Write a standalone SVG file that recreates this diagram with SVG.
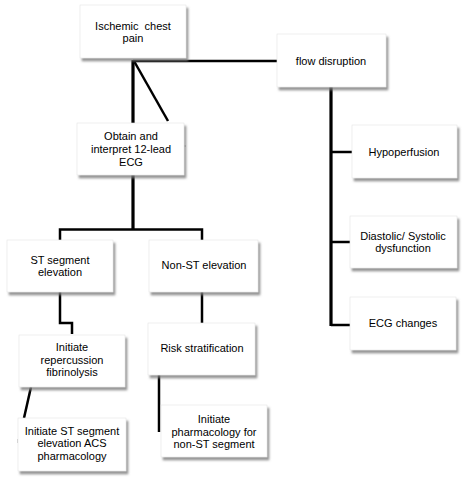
<svg xmlns="http://www.w3.org/2000/svg" width="473" height="490" viewBox="0 0 473 490">
<defs>
<filter id="sh" x="-10%" y="-10%" width="125%" height="130%">
<feDropShadow dx="2" dy="3" stdDeviation="1.2" flood-color="#7a7a7a" flood-opacity="0.8"/>
</filter>
<style>
.box{fill:#fff;stroke:#e4e4e4;stroke-width:0.6;filter:url(#sh)}
text{font-family:"Liberation Sans",Arial,sans-serif;font-size:11px;fill:#000;text-anchor:middle}
.pre{white-space:pre}
.c{stroke:#000;fill:none;stroke-width:2.5}
.t{stroke:#000;fill:none;stroke-width:3.2}
.s{stroke:#9a9a9a;fill:none;stroke-width:1}
</style>
</defs>
<rect width="473" height="490" fill="#fff"/>
<g id="connectors">
<line class="c" x1="133" y1="61" x2="278" y2="61"/>
<line class="t" x1="133" y1="60" x2="133" y2="123"/>
<line class="c" x1="134" y1="61" x2="168" y2="121"/>
<line class="s" x1="184" y1="146" x2="186" y2="146"/>
<line class="t" x1="133" y1="175" x2="133" y2="230"/>
<polyline class="c" points="60,240 60,229.5 202,229.5 202,240"/>
<polyline class="c" points="60,292 60,323 72,323 72,334"/>
<line class="c" x1="31" y1="387" x2="24" y2="418"/>
<line class="s" x1="18" y1="439" x2="18" y2="443"/>
<line class="c" x1="202" y1="292" x2="202" y2="323"/>
<line class="c" x1="159" y1="375" x2="159" y2="432"/>
<line class="t" x1="331" y1="87" x2="331" y2="326"/>
<line class="c" x1="331" y1="152" x2="352" y2="152"/>
<line class="c" x1="331" y1="242" x2="350" y2="242"/>
<line class="c" x1="331" y1="325" x2="350" y2="325"/>
</g>
<g id="ischemic">
<rect class="box" x="80" y="5" width="106" height="53"/>
<text class="pre" x="133" y="29.5" xml:space="preserve">Ischemic  chest</text>
<text x="133" y="41.5">pain</text>
</g>
<g id="flow">
<rect class="box" x="277" y="34" width="109" height="53"/>
<text x="331" y="65">flow disruption</text>
</g>
<g id="obtain">
<rect class="box" x="77" y="123" width="107" height="52"/>
<text x="131" y="140">Obtain and</text>
<text x="131" y="153">interpret 12-lead</text>
<text x="131" y="166">ECG</text>
</g>
<g id="hypo">
<rect class="box" x="352" y="125" width="105" height="53"/>
<text x="404" y="156">Hypoperfusion</text>
</g>
<g id="diastolic">
<rect class="box" x="350" y="216" width="107" height="52"/>
<text x="403" y="240">Diastolic/ Systolic</text>
<text x="403" y="252">dysfunction</text>
</g>
<g id="ecgchanges">
<rect class="box" x="350" y="297" width="106" height="53"/>
<text x="403" y="327">ECG changes</text>
</g>
<g id="stseg">
<rect class="box" x="7" y="240" width="106" height="52"/>
<text x="60" y="264">ST segment</text>
<text x="60" y="276">elevation</text>
</g>
<g id="nonst">
<rect class="box" x="149" y="240" width="109" height="52"/>
<text x="204" y="269">Non-ST elevation</text>
</g>
<g id="repercussion">
<rect class="box" x="19" y="335" width="106" height="52"/>
<text x="72" y="351">Initiate</text>
<text x="72" y="363.5">repercussion</text>
<text x="72" y="376">fibrinolysis</text>
</g>
<g id="risk">
<rect class="box" x="148" y="323" width="107" height="52"/>
<text x="202" y="352">Risk stratification</text>
</g>
<g id="stpharm">
<rect class="box" x="18" y="418" width="108" height="53"/>
<text x="72" y="434.5">Initiate ST segment</text>
<text x="72" y="447">elevation ACS</text>
<text x="72" y="459.5">pharmacology</text>
</g>
<g id="nonstpharm">
<rect class="box" x="161" y="405" width="106" height="52"/>
<text x="214" y="423">Initiate</text>
<text x="214" y="435.5">pharmacology for</text>
<text x="214" y="448">non-ST segment</text>
</g>
</svg>
